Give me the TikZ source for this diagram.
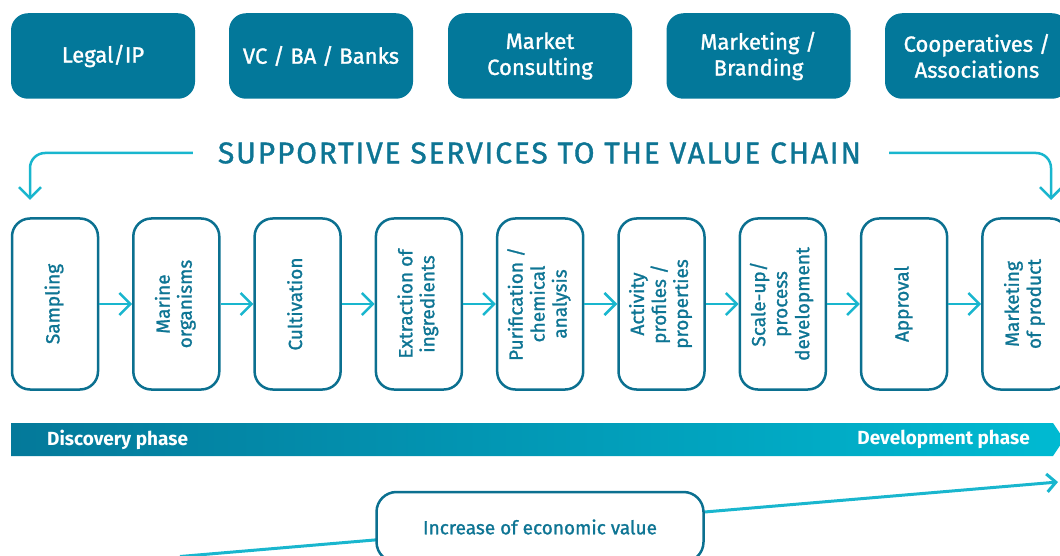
\documentclass[tikz,border=0pt]{standalone}
\usepackage{fontspec}
\setmainfont{Fira Sans}[UprightFeatures={FakeBold=1.2}]
\newfontfamily\titlefont{Fira Sans}[LetterSpace=6,FakeBold=1.2]
\usetikzlibrary{arrows.meta}
\definecolor{teal1}{HTML}{03789A}
\definecolor{cyan1}{HTML}{19B6CE}
\definecolor{tealtext}{HTML}{0E7594}
\definecolor{tealbox}{HTML}{0B7090}
\definecolor{barL}{HTML}{04799A}
\definecolor{barR}{HTML}{00BAD2}
\begin{document}
\begin{tikzpicture}[x=1pt,y=-1pt,
  topbox/.style={rectangle, rounded corners=17pt, fill=teal1, text=white,
    minimum width=184pt, minimum height=85.5pt, align=center, inner sep=0pt,
    font=\fontsize{22}{26}\selectfont},
  chainbox/.style={rectangle, rounded corners=18pt, draw=tealbox, line width=2.5pt,
    fill=white, text=tealtext, minimum width=86pt, minimum height=171pt,
    inner sep=0pt, font=\fontsize{19}{22}\selectfont},
  flow/.style={draw=cyan1, line width=2.5pt, -{Straight Barb[length=11pt,width=22pt]}},
  svc/.style={draw=cyan1, line width=2.5pt, rounded corners=15pt,
    -{Straight Barb[length=11pt,width=22pt]}},
  phase/.style={text=white, font=\fontsize{19}{22}\selectfont\bfseries, inner sep=0pt},
  valbox/.style={rectangle, rounded corners=20pt, draw=tealbox, line width=2.5pt,
    fill=white, text=tealtext, minimum width=327pt, minimum height=70pt,
    inner sep=0pt, font=\fontsize{19}{22}\selectfont},
  valline/.style={draw=cyan1, line width=3pt, -{Straight Barb[length=9pt,width=18pt]}}
]
\useasboundingbox (0,0) rectangle (1060,556);
\newcommand{\rot}[1]{\rotatebox{90}{\begin{tabular}{@{}c@{}}#1\end{tabular}}}

% top supportive boxes
\node[topbox] (t1) at (103,56) {Legal/IP};
\node[topbox] (t2) at (321,56) {VC / BA / Banks};
\node[topbox] (t3) at (540,56) {Market\\Consulting};
\node[topbox] (t4) at (758.5,56) {Marketing /\\Branding};
\node[topbox] (t5) at (977,56) {Cooperatives /\\Associations};

% title
\node[text=tealtext, inner sep=0pt, font=\titlefont\fontsize{30}{34}\selectfont] (title) at (539.5,153)
  {SUPPORTIVE SERVICES TO THE VALUE CHAIN};
\coordinate (lt) at (30,200);
\coordinate (rt) at (1051,200);
\draw[svc] ([xshift=-25pt]title.west) -| (lt);
\draw[svc] ([xshift=28pt]title.east) -| (rt);

% value chain
\node[chainbox] (c1) at (55,304) {\rot{Sampling}};
\node[chainbox] (c2) at (176.3,304) {\rot{Marine\\organisms}};
\node[chainbox] (c3) at (297.6,304) {\rot{Cultivation}};
\node[chainbox] (c4) at (418.9,304) {\rot{Extraction of\\ingredients}};
\node[chainbox] (c5) at (540.2,304) {\rot{Purification /\\chemical\\analysis}};
\node[chainbox] (c6) at (661.5,304) {\rot{Activity\\profiles /\\properties}};
\node[chainbox] (c7) at (782.8,304) {\rot{Scale-up/\\process\\development}};
\node[chainbox] (c8) at (904.1,304) {\rot{Approval}};
\node[chainbox] (c9) at (1025.4,304) {\rot{Marketing\\of product}};
\foreach \a/\b in {c1/c2,c2/c3,c3/c4,c4/c5,c5/c6,c6/c7,c7/c8,c8/c9}
  \draw[flow] (\a) -- (\b);

% phase bar
\shade[left color=barL, right color=barR]
  (11,423) -- (1053,423) -- (1064,439.5) -- (1053,456) -- (11,456) -- cycle;
\node[phase, anchor=west] (disc) at (47,439.5) {Discovery phase};
\node[phase, anchor=east] (dev) at (1030,439.5) {Development phase};

% economic value
\coordinate (vs) at (180,556.5);
\coordinate (ve) at (1058,482);
\draw[valline] (vs) -- (ve);
\node[valbox] (val) at (540,527) {Increase of economic value};
\end{tikzpicture}
\end{document}
